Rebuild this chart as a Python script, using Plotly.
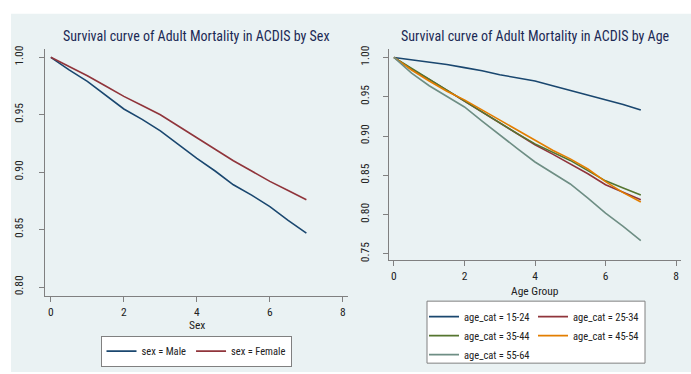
import plotly.graph_objects as go

# ---------------- data ----------------
time_years = [0, 0.5, 1, 1.5, 2, 2.5, 3, 3.5, 4, 4.5, 5, 5.5, 6, 6.5, 7]

surv_male = [1.000, 0.989, 0.979, 0.967, 0.955, 0.946, 0.936, 0.924, 0.912, 0.901, 0.889, 0.880, 0.870, 0.858, 0.847]
surv_female = [1.000, 0.992, 0.984, 0.975, 0.966, 0.958, 0.950, 0.940, 0.930, 0.920, 0.910, 0.901, 0.892, 0.884, 0.876]

surv_15_24 = [1.000, 0.997, 0.994, 0.991, 0.987, 0.983, 0.978, 0.974, 0.970, 0.964, 0.958, 0.952, 0.946, 0.940, 0.933]
surv_25_34 = [1.000, 0.985, 0.972, 0.958, 0.945, 0.931, 0.917, 0.903, 0.889, 0.877, 0.865, 0.852, 0.838, 0.828, 0.819]
surv_35_44 = [1.000, 0.986, 0.972, 0.958, 0.945, 0.931, 0.917, 0.903, 0.890, 0.879, 0.869, 0.856, 0.843, 0.834, 0.825]
surv_45_54 = [1.000, 0.984, 0.970, 0.957, 0.946, 0.933, 0.920, 0.907, 0.894, 0.882, 0.871, 0.858, 0.842, 0.828, 0.816]
surv_55_64 = [1.000, 0.980, 0.964, 0.950, 0.937, 0.919, 0.901, 0.884, 0.867, 0.853, 0.839, 0.821, 0.802, 0.785, 0.767]

sex_labels = ["sex = Male", "sex = Female"]
age_labels = ["age_cat = 15-24", "age_cat = 25-34", "age_cat = 35-44", "age_cat = 45-54", "age_cat = 55-64"]

left_title = "Survival curve of Adult Mortality in ACDIS by Sex"
right_title = "Survival curve of Adult Mortality in ACDIS by Age"
left_xtitle = "Sex"
right_xtitle = "Age Group"

x_ticks = [0, 2, 4, 6, 8]
left_y_ticks = [0.80, 0.85, 0.90, 0.95, 1.00]
right_y_ticks = [0.75, 0.80, 0.85, 0.90, 0.95, 1.00]

# ---------------- styles ----------------
W, H = 691, 374
FONT = "Roboto Condensed, DejaVu Sans Condensed, Liberation Sans, sans-serif"
BG = "#EAF2F3"
AXIS = "#808080"
TXT = "#222222"
sex_colors = ["#1a476f", "#90353b"]
age_colors = ["#1a476f", "#90353b", "#55752f", "#e37e00", "#6e8e84"]
# which legend column each age series goes in (two-column legend)
age_legend = ["legend2", "legend3", "legend2", "legend3", "legend2"]

fig = go.Figure()

for lab, ys, col in zip(sex_labels, [surv_male, surv_female], sex_colors):
    fig.add_trace(go.Scatter(x=time_years, y=ys, mode="lines", name=lab,
                             line=dict(color=col, width=1.6),
                             xaxis="x", yaxis="y", legend="legend"))

for lab, ys, col, lg in zip(age_labels, [surv_15_24, surv_25_34, surv_35_44, surv_45_54, surv_55_64],
                            age_colors, age_legend):
    fig.add_trace(go.Scatter(x=time_years, y=ys, mode="lines", name=lab,
                             line=dict(color=col, width=1.6),
                             xaxis="x2", yaxis="y2", legend=lg))

def px_x(p):
    return p / W

def px_y(p):
    return 1 - p / H

TICKFONT = dict(family=FONT, size=11.5, color=TXT)
common_x = dict(showgrid=False, zeroline=False, showline=True, linecolor=AXIS, linewidth=1,
                ticks="outside", ticklen=5, tickcolor=AXIS, tickvals=x_ticks, tickfont=TICKFONT)
common_y = dict(showgrid=True, gridcolor=BG, gridwidth=1.5, zeroline=False, showline=True,
                linecolor=AXIS, linewidth=1, ticks="outside", ticklen=5, tickcolor=AXIS,
                tickangle=-90, tickformat=".2f", tickfont=TICKFONT)

LEGFONT = dict(family=FONT, size=10.5, color=TXT)

fig.update_layout(
    width=W, height=H,
    margin=dict(l=0, r=0, t=0, b=0),
    paper_bgcolor="white", plot_bgcolor="white",
    font=dict(family=FONT, color=TXT),
    xaxis=dict(common_x, domain=[px_x(45), px_x(348)], range=[-0.16, 8.14], anchor="y"),
    yaxis=dict(common_y, domain=[px_y(297), px_y(46)], range=[0.792, 1.007], tickvals=left_y_ticks,
               anchor="x", ticklabelstandoff=11),
    xaxis2=dict(common_x, domain=[px_x(389), px_x(681)], range=[-0.14, 8.14], anchor="y2"),
    yaxis2=dict(common_y, domain=[px_y(260), px_y(46)], range=[0.7425, 1.0104], tickvals=right_y_ticks,
                anchor="x2", ticklabelstandoff=9),
    legend=dict(orientation="h", x=px_x(196), y=px_y(337), xanchor="center", yanchor="top",
                bgcolor="white", bordercolor=AXIS, borderwidth=1, font=LEGFONT, itemwidth=30),
    legend2=dict(orientation="v", x=px_x(424), y=px_y(303), xanchor="left", yanchor="top",
                 bgcolor="rgba(0,0,0,0)", borderwidth=0, font=LEGFONT, itemwidth=30,
                 tracegroupgap=0),
    legend3=dict(orientation="v", x=px_x(533), y=px_y(303), xanchor="left", yanchor="top",
                 bgcolor="rgba(0,0,0,0)", borderwidth=0, font=LEGFONT, itemwidth=30,
                 tracegroupgap=0),
    shapes=[
        dict(type="rect", xref="paper", yref="paper", x0=px_x(11), x1=1, y0=0, y1=px_y(10),
             fillcolor=BG, line=dict(width=0), layer="below"),
        dict(type="rect", xref="paper", yref="paper", x0=px_x(427), x1=px_x(645),
             y0=px_y(365), y1=px_y(302), fillcolor="white",
             line=dict(color=AXIS, width=1), layer="below"),
    ],
    annotations=[
        dict(text=left_title, x=px_x(196.5), y=px_y(33), xref="paper", yref="paper",
             showarrow=False, xanchor="center", yanchor="middle",
             font=dict(family=FONT, size=14, color="#1c2a55")),
        dict(text=right_title, x=px_x(535), y=px_y(33), xref="paper", yref="paper",
             showarrow=False, xanchor="center", yanchor="middle",
             font=dict(family=FONT, size=14, color="#1c2a55")),
        dict(text=left_xtitle, x=px_x(196.5), y=px_y(326), xref="paper", yref="paper",
             showarrow=False, xanchor="center", yanchor="middle", font=TICKFONT),
        dict(text=right_xtitle, x=px_x(535), y=px_y(292), xref="paper", yref="paper",
             showarrow=False, xanchor="center", yanchor="middle", font=TICKFONT),
    ],
)

fig.write_html(
    "out.html",
    config={"displayModeBar": False},
    post_script="document.body.style.margin='0';document.body.style.overflow='hidden';"
                "document.documentElement.style.overflow='hidden';",
)
